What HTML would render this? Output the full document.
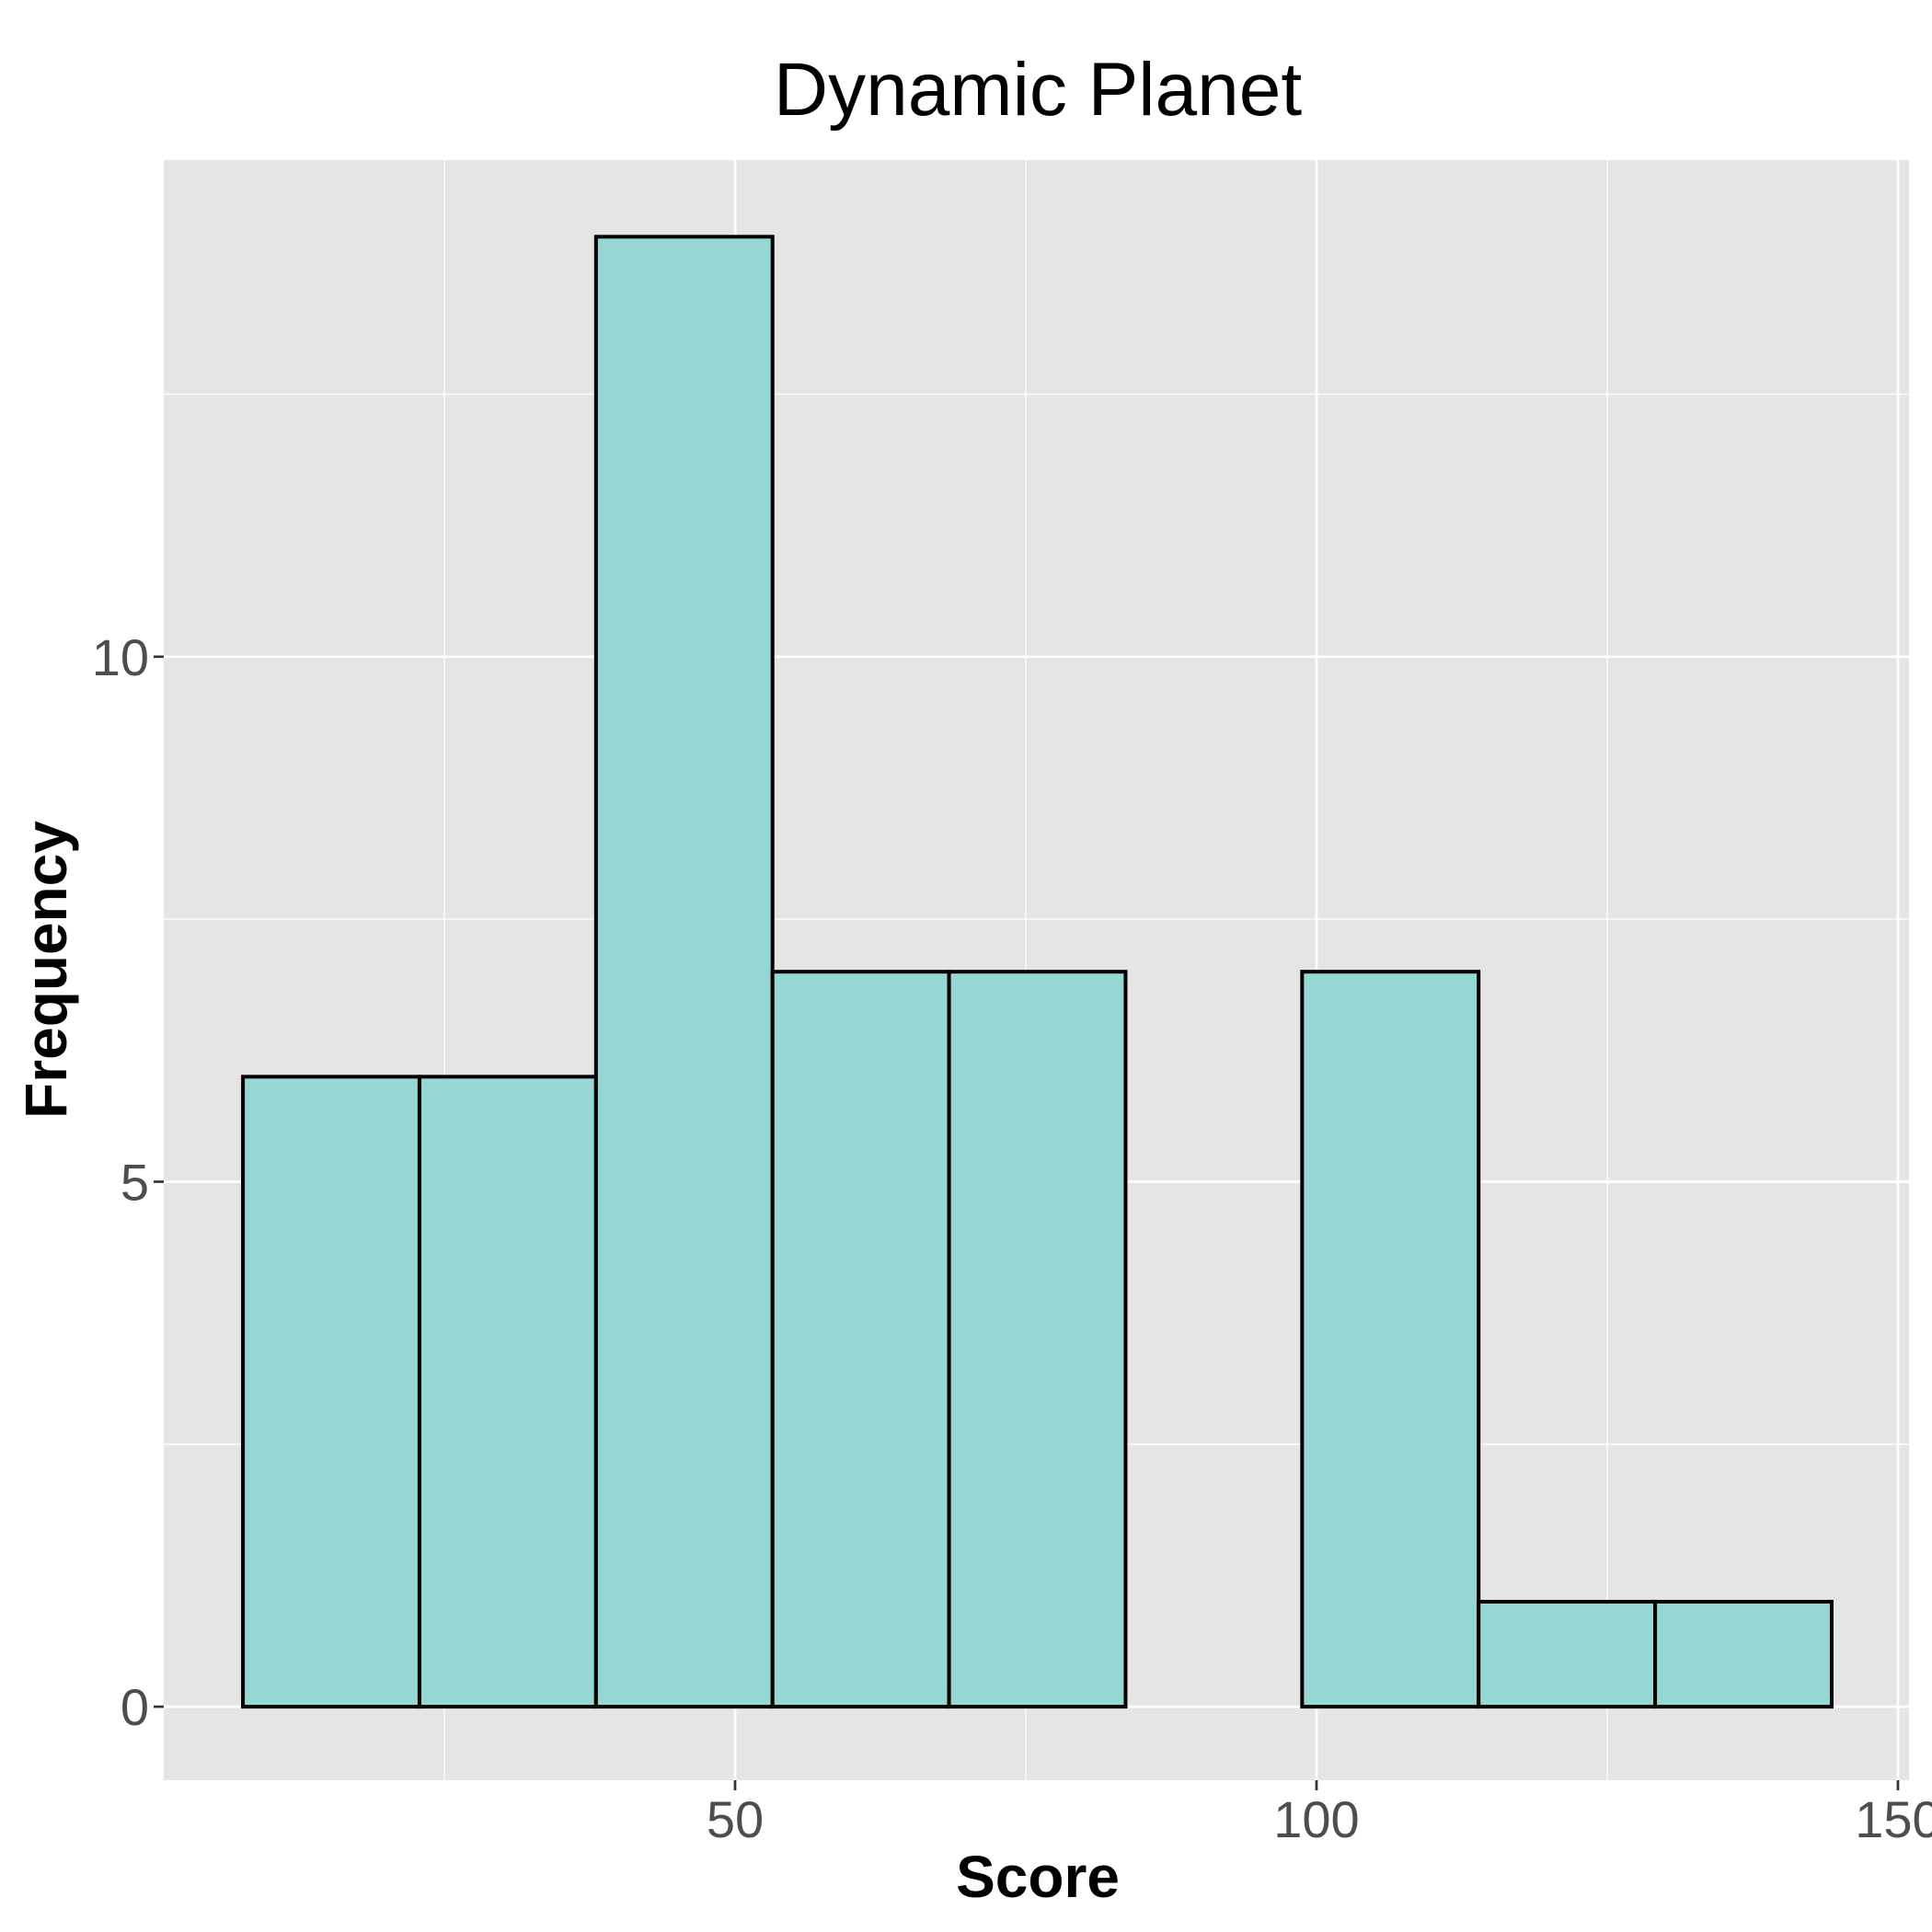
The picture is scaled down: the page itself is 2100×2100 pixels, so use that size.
<!DOCTYPE html>
<html><head><meta charset="utf-8"><style>
html,body{margin:0;padding:0;background:#fff;}
svg{display:block;font-family:"Liberation Sans",Arial,sans-serif;}
</style></head><body>
<svg id="chart" width="2100" height="2100" viewBox="0 0 2100 2100">
<text x="1128" y="125" font-size="82" text-anchor="middle" fill="#000">Dynamic Planet</text>
<rect x="178" y="174" width="1897" height="1761" fill="#e5e5e5"/>
<g id="grid"></g>
<g id="bars"></g>
<g id="axes"></g>
<text x="1128" y="2062" font-size="64" font-weight="bold" text-anchor="middle">Score</text>
<text transform="translate(72,1054) rotate(-90)" font-size="64" font-weight="bold" text-anchor="middle">Frequency</text>
</svg>
<script>
const binStart = 7.68;
const binWidth = 15.18;
const counts = [6, 6, 14, 7, 7, 0, 7, 1, 1];
const xTicks = [50, 100, 150];
const xMinor = [25, 75, 125];
const yTicks = [0, 5, 10];
const yMinor = [2.5, 7.5, 12.5];

const PL=178, PR=2075, PT=174, PB=1935;
const xMin=0.87, xMax=150.95, yMin=-0.70, yMax=14.73;
const sx=v=>PL+(v-xMin)/(xMax-xMin)*(PR-PL);
const sy=v=>PB-(v-yMin)/(yMax-yMin)*(PB-PT);
const NS='http://www.w3.org/2000/svg';
function mk(tag,attrs,parent){const e=document.createElementNS(NS,tag);for(const k in attrs)e.setAttribute(k,attrs[k]);parent.appendChild(e);return e;}
const grid=document.getElementById('grid'),bars=document.getElementById('bars'),axes=document.getElementById('axes');
xMinor.forEach(v=>{const l=mk('line',{x1:sx(v),x2:sx(v),y1:PT,y2:PB,stroke:'#fff','stroke-width':1.3},grid);

});
yMinor.forEach(v=>{const l=mk('line',{x1:PL,x2:PR,y1:sy(v),y2:sy(v),stroke:'#fff','stroke-width':1.3},grid);

});
xTicks.forEach(v=>{const l=mk('line',{x1:sx(v),x2:sx(v),y1:PT,y2:PB,stroke:'#fff','stroke-width':2.7},grid);


const t=mk('line',{x1:sx(v),x2:sx(v),y1:PB,y2:PB+11,stroke:'#333','stroke-width':2.7},axes);


const tx=mk('text',{x:sx(v),y:1997,'font-size':56,'text-anchor':'middle',fill:'#4d4d4d'},axes);tx.textContent=v;

});
yTicks.forEach(v=>{const l=mk('line',{x1:PL,x2:PR,y1:sy(v),y2:sy(v),stroke:'#fff','stroke-width':2.7},grid);


const t=mk('line',{x1:PL-11,x2:PL,y1:sy(v),y2:sy(v),stroke:'#333','stroke-width':2.7},axes);


const tx=mk('text',{x:PL-16,y:sy(v)+20,'font-size':56,'text-anchor':'end',fill:'#4d4d4d'},axes);tx.textContent=v;

});
counts.forEach((c,i)=>{const x0=sx(binStart+i*binWidth),x1=sx(binStart+(i+1)*binWidth);
const r=mk('rect',{x:x0,y:sy(c),width:x1-x0,height:sy(0)-sy(c),fill:'#96d7d6',stroke:'#000','stroke-width':4},bars);

});
</script>
</body></html>
